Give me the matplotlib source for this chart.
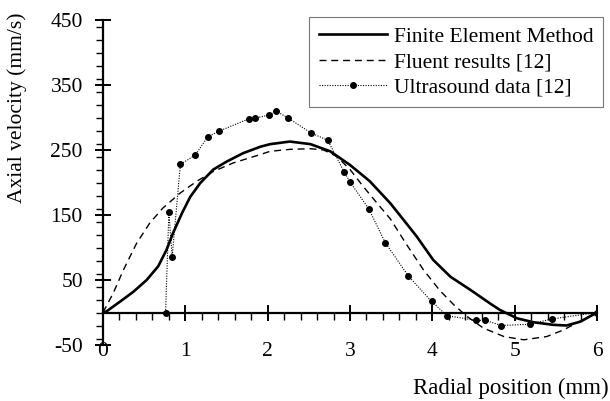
import matplotlib
matplotlib.use("Agg")
import matplotlib.pyplot as plt
from matplotlib.ticker import MultipleLocator, FixedLocator

# ---- data ----
fem_x = [0.0, 0.04, 0.21, 0.37, 0.53, 0.67, 0.77, 0.85, 0.96, 1.06, 1.18, 1.34, 1.50, 1.70, 1.91,
         2.03, 2.27, 2.52, 2.76, 3.0, 3.24, 3.49, 3.61, 3.81, 4.01, 4.22, 4.46, 4.70, 4.82,
         5.03, 5.23, 5.47, 5.63, 5.80, 6.0]
fem_v = [0, 1.5, 17, 32, 50, 71, 96, 122, 153, 178, 199, 220, 232, 245, 255,
         259, 263, 259, 248, 227, 202, 168, 149, 117, 81, 55, 35, 14, 4,
         -9, -15, -19, -20, -14, 0]

fluent_x = [0.0, 0.125, 0.25, 0.41, 0.57, 0.73, 0.94, 1.14, 1.34, 1.58, 1.91, 2.03, 2.27, 2.52, 2.68,
            2.84, 3.0, 3.16, 3.33, 3.49, 3.69, 3.89, 4.09, 4.26, 4.42, 4.62, 4.87, 5.11, 5.39,
            5.59, 5.8, 6.0]
fluent_v = [0, 30, 66, 107, 138, 161, 184, 202, 217, 230, 243, 248, 251, 252, 250,
            240, 220, 194, 168, 144, 104, 66, 34, 12, -6, -24, -37, -42, -37,
            -27, -13, 0]

us_x = [0.76, 0.80, 0.84, 0.94, 1.12, 1.27, 1.41, 1.77, 1.85, 2.02, 2.10, 2.25, 2.53, 2.73, 2.93,
        3.0, 3.23, 3.43, 3.71, 3.99, 4.18, 4.53, 4.64, 4.84, 5.19, 5.45, 6.0]
us_v = [0, 154, 86, 228, 242, 270, 279, 298, 299, 304, 310, 299, 276, 265, 216,
        201, 159, 107, 56, 17, -5, -12, -12, -20, -18, -10, 0]

y_ticks = [-50, 50, 150, 250, 350, 450]
x_ticks = [0, 1, 2, 3, 4, 5, 6]

plt.rcParams['font.family'] = ['Liberation Serif', 'DejaVu Serif']
plt.rcParams['axes.unicode_minus'] = False
FS = 15.5

fig = plt.figure(figsize=(6.10, 4.01), dpi=100)
ax = fig.add_axes([103/610, 1 - 345/401, (597 - 103)/610, (345 - 20)/401])

ax.plot(fem_x, fem_v, color='black', lw=1.9, label='Finite Element Method')
ax.plot(fluent_x, fluent_v, color='black', lw=1.0, linestyle=(0, (5, 3.5)), label='Fluent results [12]')
ax.plot(us_x, us_v, color='black', lw=0.8, linestyle=(0, (1, 1.3)), marker='o', markersize=4,
        label='Ultrasound data [12]')

ax.set_xlim(0, 6)
ax.set_ylim(-50, 450)

for s in ['top', 'right']:
    ax.spines[s].set_visible(False)
ax.spines['bottom'].set_position(('data', 0))
ax.spines['bottom'].set_linewidth(1.6)
ax.spines['left'].set_linewidth(1.6)

ax.xaxis.set_major_locator(FixedLocator(x_ticks))
ax.xaxis.set_minor_locator(MultipleLocator(0.2))
ax.yaxis.set_major_locator(FixedLocator(y_ticks))
ax.yaxis.set_minor_locator(MultipleLocator(20))

ax.tick_params(axis='x', which='major', direction='inout', length=11, width=1.4, pad=16, labelsize=FS)
ax.tick_params(axis='x', which='minor', direction='out', length=5, width=1.0)
ax.tick_params(axis='y', which='major', direction='inout', length=11, width=1.4, pad=9, labelsize=FS)
ax.tick_params(axis='y', which='minor', direction='out', length=5, width=1.0)

fig.text(609/610, 1 - 388/401, 'Radial position (mm)', ha='right', va='center', fontsize=16.5)
fig.text(17/610, 1 - 108/401, 'Axial velocity (mm/s)', ha='center', va='center', rotation=90, fontsize=FS)

leg = ax.legend(loc='upper right', bbox_to_anchor=(603/610, 1 - 17/401), bbox_transform=fig.transFigure,
                fontsize=FS, frameon=True, fancybox=False, handlelength=3.16, handletextpad=0.33,
                numpoints=1, borderaxespad=0, borderpad=0.45, labelspacing=0.25)
leg.get_frame().set_edgecolor('#555555')
leg.get_frame().set_linewidth(0.8)

fig.savefig('out.png', dpi=100)
